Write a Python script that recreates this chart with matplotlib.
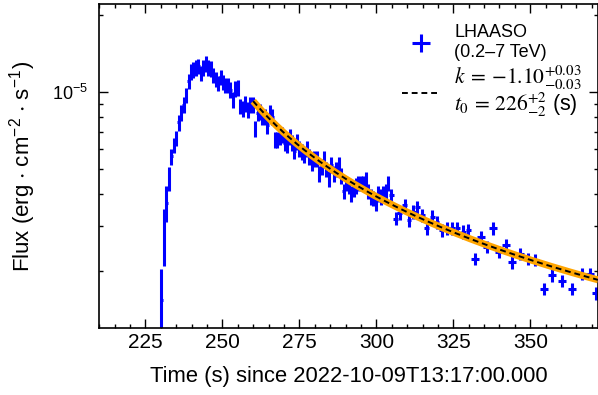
import numpy as np
import matplotlib
matplotlib.use('Agg')
import matplotlib.pyplot as plt
from matplotlib.ticker import NullFormatter, LogLocator

plt.rcParams['font.family'] = ['Liberation Sans', 'DejaVu Sans']
plt.rcParams['mathtext.fontset'] = 'custom'
plt.rcParams['mathtext.rm'] = 'STIXGeneral'
plt.rcParams['mathtext.it'] = 'STIXGeneral:italic'
plt.rcParams['mathtext.sf'] = 'Liberation Sans'

# LHAASO light curve (flux in 1e-6 erg cm^-2 s^-1)
time_a = [230.2, 231.0, 231.8, 232.6, 233.4, 234.2, 235.0, 235.8, 236.6, 237.4,
          238.2, 239.0, 239.8, 240.6, 241.4, 242.2, 243.0, 243.8, 244.6, 245.4,
          246.2, 247.0, 247.8, 248.6, 249.4, 250.2, 251.0, 251.8, 252.6, 253.4,
          254.2, 255.0, 255.8, 256.6, 257.4, 258.2, 259.0, 259.8, 260.6, 261.4,
          262.2, 263.0, 263.8, 264.6, 265.4, 266.2, 267.0, 267.8, 268.6, 269.4,
          270.2, 271.0, 271.8, 272.6, 273.4, 274.2, 275.0, 275.8, 276.6, 277.4,
          278.2, 279.0, 279.8, 280.6, 281.4, 282.2, 283.0, 283.8, 284.6, 285.4,
          286.2, 287.0, 287.8, 288.6, 289.4, 290.2, 291.0, 291.8, 292.6, 293.4,
          294.2, 295.0, 295.8, 296.6, 297.4, 298.2, 299.0, 299.8, 300.6, 301.4,
          302.2, 303.0, 303.8]
flux_a = [1.55, 2.8, 3.7, 4.6, 5.6, 6.2, 6.6, 7.6, 8.3, 8.9,
          9.7, 11.0, 12.0, 12.2, 12.4, 12.6, 11.8, 12.4, 12.9, 12.4,
          12.3, 11.6, 11.2, 10.8, 11.4, 10.9, 10.6, 10.6, 10.2, 9.3,
          10.3, 10.4, 8.8, 8.6, 9.0, 8.5, 8.9, 8.9, 7.2, 8.3,
          8.35, 8.0, 8.0, 7.4, 8.3, 8.0, 6.5, 6.5, 6.7, 6.8,
          6.3, 6.2, 6.7, 6.35, 5.9, 6.4, 6.0, 5.85, 5.7, 6.0,
          5.6, 5.3, 5.5, 5.5, 4.8, 5.1, 5.5, 5.0, 4.6, 5.2,
          4.8, 5.0, 5.2, 4.7, 4.1, 4.4, 4.3, 4.0, 4.2, 4.3,
          4.4, 4.4, 4.4, 4.55, 4.1, 3.9, 3.85, 3.7, 4.0, 3.9,
          4.0, 4.1, 4.4]
time_b = [304.8, 306.3, 307.6, 309.2, 310.6, 312.0, 313.3, 314.9, 316.4, 318.1,
          319.7, 321.3, 323.0, 324.6, 326.3, 328.2, 329.8]
flux_b = [3.96, 3.21, 3.36, 3.62, 3.16, 3.41, 3.56, 3.31, 2.94, 3.26,
          3.11, 2.89, 2.94, 2.94, 2.94, 2.85, 2.89]
time_c = [331.9, 334.0, 336.0, 337.8, 340.0, 342.0, 344.1, 346.7, 349.2, 351.6,
          354.3, 357.2, 360.4, 363.7, 366.9, 369.5, 371.5]
flux_c = [2.24, 2.72, 2.49, 2.94, 2.38, 2.53, 2.17, 2.34, 2.24, 2.21,
          1.71, 1.93, 1.84, 1.71, 1.96, 1.96, 1.64]

# half bin widths (s) and relative flux errors per segment
xerr_a, xerr_b, xerr_c = 0.4, 0.8, 1.3
rel_a, rel_b, rel_c = 0.07, 0.06, 0.055
rise_err = [0.5, 0.7, 0.6, 0.5]  # first points, absolute (1e-6)

# power-law fit F = A (t - t0)^k
k = -1.10
t0 = 226.0
fit_start, fit_end = 260.0, 372.0
fit_norm = 9.2e-6  # flux at fit_start

time = np.array(time_a + time_b + time_c)
flux = np.array(flux_a + flux_b + flux_c) * 1e-6
xerr = np.array([xerr_a] * len(time_a) + [xerr_b] * len(time_b) + [xerr_c] * len(time_c))
rel = np.array([rel_a] * len(time_a) + [rel_b] * len(time_b) + [rel_c] * len(time_c))
yerr = flux * rel
yerr[:len(rise_err)] = np.array(rise_err) * 1e-6

fig, ax = plt.subplots(figsize=(5.98, 3.95), dpi=100)
fig.subplots_adjust(left=0.166, right=1.0, bottom=0.169, top=0.99)

eb = ax.errorbar(time, flux, xerr=xerr, yerr=yerr, fmt='none', ecolor='blue',
                 elinewidth=2.2, capsize=0, zorder=2,
                 label='LHAASO\n(0.2–7 TeV)')

t_fit = np.linspace(fit_start, fit_end, 300)
f_fit = fit_norm * ((t_fit - t0) / (fit_start - t0)) ** k
ax.plot(t_fit, f_fit, color='orange', lw=5, solid_capstyle='butt', zorder=3)
fl, = ax.plot(t_fit, f_fit, color='black', ls='--', lw=1.4, dashes=(3, 2), zorder=4,
              label='$k\\;=\\,{-}1.10^{+0.03}_{-0.03}$\n$t_0\\,=\\,226^{+2}_{-2}$ (s)')

ax.set_yscale('log')
ax.set_xlim(210, 372)
ax.set_ylim(1.2e-6, 2.2e-5)
ax.xaxis.set_major_locator(plt.MultipleLocator(25))
ax.xaxis.set_minor_locator(plt.MultipleLocator(5))
ax.yaxis.set_minor_locator(LogLocator(base=10, subs=np.arange(2, 10)))
ax.yaxis.set_minor_formatter(NullFormatter())
ax.tick_params(which='both', direction='in', top=True, right=True, labelsize=15)
ax.tick_params(axis='y', labelsize=13, pad=8)
ax.tick_params(which='major', length=6.5, width=1)
ax.tick_params(which='minor', length=3.2, width=1)
for s in ax.spines.values():
    s.set_linewidth(1.2)

ax.set_xlabel('Time (s) since 2022-10-09T13:17:00.000', fontsize=15.8, labelpad=10)
ax.set_ylabel(r'Flux (erg$\,\cdot\,\mathsf{cm}^{\mathsf{-2}}\,\cdot\,\mathsf{s}^{\mathsf{-1}}$)',
              fontsize=16, labelpad=10)

leg = ax.legend(handles=[eb, fl], loc='upper right', bbox_to_anchor=(1.0, 0.987),
                frameon=False, fontsize=13, handlelength=2.1, handletextpad=0.8,
                labelspacing=0.15, borderaxespad=0.5)
leg.get_texts()[1].set_fontsize(15.5)
leg.get_texts()[1].set_linespacing(0.95)

fig.savefig('out.png', dpi=100)
